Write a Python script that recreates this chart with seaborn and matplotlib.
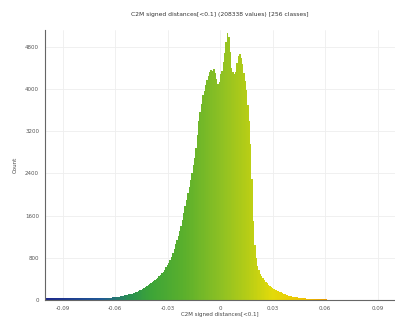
import numpy as np
import pandas as pd
import seaborn as sns
import matplotlib
matplotlib.use("Agg")
import matplotlib.pyplot as plt
from matplotlib.colors import LinearSegmentedColormap
from matplotlib.ticker import AutoMinorLocator

# Histogram of C2M signed distances: 256 classes over [-0.1, 0.1]
range_min = -0.1
range_max = 0.1
n_classes = 256
n_values = 208338

class_counts = [
    30, 32, 31, 33, 32, 34, 33, 33, 35, 34, 35, 34, 36, 35, 36, 35,
    36, 35, 36, 37, 36, 37, 36, 37, 36, 37, 36, 37, 38, 37, 38, 38,
    38, 39, 38, 39, 39, 40, 40, 40, 41, 42, 41, 43, 44, 44, 45, 46,
    47, 48, 50, 54, 57, 60, 65, 70, 74, 80, 86, 92, 98, 105, 112, 120,
    130, 138, 147, 158, 170, 182, 195, 210, 225, 242, 260, 280, 300, 318, 336, 355,
    380, 400, 425, 450, 475, 505, 540, 575, 620, 665, 710, 760, 820, 890, 970, 1060,
    1130, 1220, 1310, 1400, 1520, 1650, 1780, 1900, 2030, 2150, 2280, 2410, 2560, 2700, 2880, 3120,
    3400, 3560, 3720, 3880, 3960, 4080, 4180, 4250, 4330, 4370, 4340, 4380, 4300, 4200, 4100, 4130,
    4280, 4350, 4520, 4680, 4900, 5060, 4980, 4700, 4400, 4330, 4280, 4320, 4500, 4620, 4660, 4580,
    4480, 4300, 4150, 3980, 3700, 3400, 2950, 2300, 1500, 1050, 800, 650, 560, 500, 460, 420,
    380, 350, 320, 290, 260, 240, 225, 210, 195, 185, 170, 158, 145, 132, 118, 105,
    95, 88, 80, 74, 68, 62, 57, 52, 48, 44, 40, 37, 34, 31, 29, 27,
    25, 23, 21, 20, 18, 17, 16, 15, 14, 13, 12, 11, 10, 10, 9, 8,
    8, 7, 7, 6, 6, 5, 5, 4, 4, 4, 3, 3, 3, 2, 2, 2,
    2, 2, 1, 1, 1, 1, 1, 1, 1, 0, 1, 0, 1, 0, 0, 1,
    0, 0, 1, 0, 0, 0, 0, 1, 0, 0, 0, 0, 0, 0, 0, 0,
]

x_ticks = [-0.09, -0.06, -0.03, 0, 0.03, 0.06, 0.09]
x_tick_labels = ["-0.09", "-0.06", "-0.03", "0", "0.03", "0.06", "0.09"]
y_ticks = [0, 800, 1600, 2400, 3200, 4000, 4800]

title = f"C2M signed distances[<0.1] ({n_values} values) [{n_classes} classes]"
x_label = "C2M signed distances[<0.1]"
y_label = "Count"

edges = np.linspace(range_min, range_max, n_classes + 1)
centers = (edges[:-1] + edges[1:]) / 2
df = pd.DataFrame({"distance": centers, "count": class_counts})

# Blue > Green > Yellow > Red colour scale
scale = LinearSegmentedColormap.from_list(
    "bgyr",
    [(0.0, "#1c268c"), (0.16, "#1f5a96"), (0.24, "#2a9050"), (0.30, "#3ca438"),
     (0.40, "#5cb02c"), (0.50, "#8cc024"), (0.58, "#b6cd16"), (0.65, "#e2da0a"),
     (0.75, "#f0c000"), (0.88, "#e86a00"), (1.0, "#d01a00")],
)

sns.set_style("white")
fig = plt.figure(figsize=(3.95, 3.22), dpi=100)
ax = fig.add_axes([45 / 395, 22 / 322, 350 / 395, 270 / 322])

sns.histplot(data=df, x="distance", weights="count", bins=n_classes,
             binrange=(range_min, range_max), element="bars", fill=True,
             linewidth=0, alpha=1.0, ax=ax)

for patch in ax.patches:
    cx = patch.get_x() + patch.get_width() / 2
    patch.set_facecolor(scale((cx - range_min) / (range_max - range_min)))
    patch.set_edgecolor("none")
    patch.set_width(patch.get_width() * 1.02)

ax.set_xlim(range_min, range_max)
ax.set_ylim(0, 5120)
ax.set_xticks(x_ticks)
ax.set_xticklabels(x_tick_labels)
ax.set_yticks(y_ticks)
ax.xaxis.set_minor_locator(AutoMinorLocator(5))
ax.yaxis.set_minor_locator(AutoMinorLocator(4))

ax.grid(True, which="major", color="#eeeeee", linewidth=0.6)
ax.set_axisbelow(True)
for side in ("top", "right"):
    ax.spines[side].set_visible(False)
for side in ("left", "bottom"):
    ax.spines[side].set_color("#666666")
    ax.spines[side].set_linewidth(0.8)

ax.tick_params(axis="both", which="major", labelsize=4, colors="#555555",
               length=2.5, width=0.6, direction="inout", pad=3)
ax.tick_params(axis="both", which="minor", length=1.5, width=0.5,
               colors="#777777", direction="in")

ax.set_title(title, fontsize=4.3, color="#333333", pad=10)
ax.set_xlabel(x_label, fontsize=4, color="#444444", labelpad=1)
ax.set_ylabel(y_label, fontsize=4, color="#444444", labelpad=5)

fig.savefig("out.png", dpi=100)
